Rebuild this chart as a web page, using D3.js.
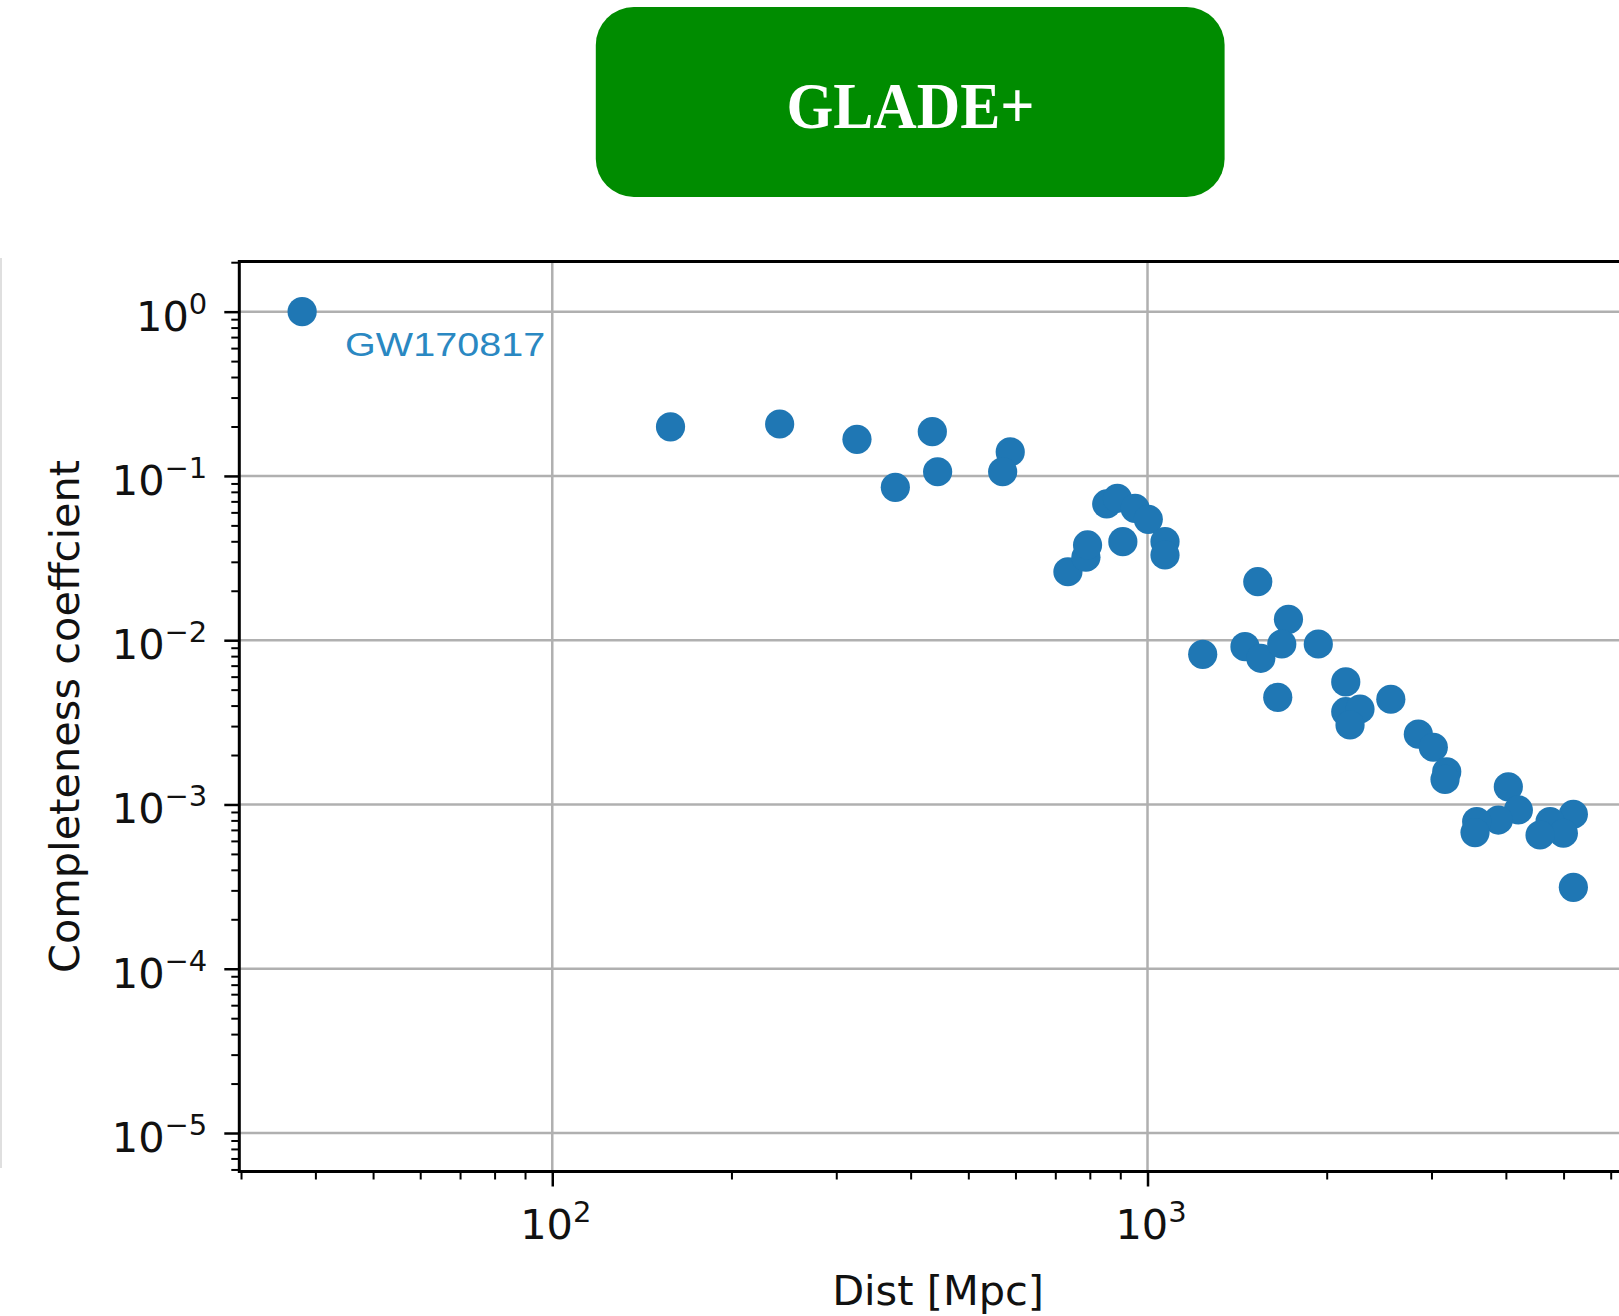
<!DOCTYPE html>
<html>
<head>
<meta charset="utf-8">
<script src="https://cdn.jsdelivr.net/npm/d3@7/dist/d3.min.js"></script>
<style>
  html, body { margin: 0; padding: 0; background: #ffffff; overflow: hidden; }
  svg { display: block; }
</style>
</head>
<body>
<svg id="chart" width="1619" height="1316"></svg>
<script>
// Luminosity distance of each event (Mpc)
const distances = [
  38, 158, 241, 325, 435, 377, 444, 588, 571,
  735, 788, 793, 854, 890, 953, 1003, 909, 1070, 1070,
  1532, 1725, 1238, 1458, 1550, 1681, 1936, 1655,
  2153, 2153, 2275, 2189, 2563, 2851, 3021, 3182, 3161,
  4038, 4198, 3885, 3573, 3550, 5193, 4745, 4996, 4565, 5193
];
// Catalogue completeness coefficient of each event
const coefficients = [
  1.0, 0.199, 0.207, 0.167, 0.186, 0.0852, 0.106, 0.140, 0.106,
  0.0261, 0.0320, 0.0380, 0.0675, 0.0731, 0.0635, 0.0544, 0.0398, 0.0398, 0.0330,
  0.0227, 0.0134, 0.0082, 0.00913, 0.00776, 0.00948, 0.00948, 0.00449,
  0.00557, 0.00367, 0.00381, 0.00305, 0.00437, 0.00268, 0.00223, 0.00158, 0.00142,
  0.00128, 0.000926, 0.000804, 0.000786, 0.000674, 0.000872, 0.000786, 0.000668, 0.000652, 0.000313
];
const annotatedEvent = "GW170817";
const xMajorExponents = [2, 3];
const yMajorExponents = [0, -1, -2, -3, -4, -5];
const xTitle = "Dist [Mpc]";
const yTitle = "Completeness coeffcient";
const catalogName = "GLADE+";

const svg = d3.select("#chart");
const frame = { left: 239.3, top: 261.5, right: 1636.9, bottom: 1171.5 };

const x = d3.scaleLog().domain([29.8, 6640]).range([frame.left, frame.right]);
const y = d3.scaleLog().domain([2.02, 5.83e-6]).range([frame.top, frame.bottom]);

const axisFont = "'DejaVu Sans', sans-serif";
const fontSize = 41.5;
const supSize = 29;
const minus = "\u2212";

// Catalogue banner
svg.append("rect")
  .attr("x", 595.8).attr("y", 7)
  .attr("width", 628.8).attr("height", 190)
  .attr("rx", 38).attr("ry", 38)
  .attr("fill", "#008c00");
svg.append("text")
  .attr("x", 910.5).attr("y", 127.5)
  .attr("text-anchor", "middle")
  .attr("font-family", "'Liberation Serif', 'DejaVu Serif', serif")
  .attr("font-weight", "bold")
  .attr("font-size", 66)
  .attr("fill", "#ffffff")
  .attr("textLength", 248)
  .attr("lengthAdjust", "spacingAndGlyphs")
  .text(catalogName);

// faint edge of the neighbouring panel
svg.append("line")
  .attr("x1", 1).attr("x2", 1).attr("y1", 258).attr("y2", 1168)
  .attr("stroke", "#d4d4d4").attr("stroke-width", 1.5);

const xMajor = xMajorExponents.map(e => Math.pow(10, e));
const yMajor = yMajorExponents.map(e => Math.pow(10, e));
const isPow10 = v => Math.abs(Math.log10(v) - Math.round(Math.log10(v))) < 1e-9;
const xMinor = x.ticks().filter(v => !isPow10(v));
const yMinor = y.ticks().filter(v => !isPow10(v) && v <= 2.02 && v >= 5.83e-6);

// Grid
const grid = svg.append("g").attr("stroke", "#b0b0b0").attr("stroke-width", 2.5);
grid.selectAll("line.gx").data(xMajor).join("line")
  .attr("class", "gx")
  .attr("x1", d => x(d)).attr("x2", d => x(d))
  .attr("y1", frame.top).attr("y2", frame.bottom);
grid.selectAll("line.gy").data(yMajor).join("line")
  .attr("class", "gy")
  .attr("x1", frame.left).attr("x2", frame.right)
  .attr("y1", d => y(d)).attr("y2", d => y(d));

function styleTicks(g, width) {
  g.select(".domain").remove();
  g.selectAll(".tick line").attr("stroke", "#000").attr("stroke-width", width);
}

// Minor ticks
svg.append("g")
  .attr("transform", `translate(${frame.left},0)`)
  .call(d3.axisLeft(y).tickValues(yMinor).tickSize(8).tickSizeOuter(0).tickFormat(""))
  .call(g => styleTicks(g, 2));
svg.append("g")
  .attr("transform", `translate(0,${frame.bottom})`)
  .call(d3.axisBottom(x).tickValues(xMinor).tickSize(8).tickSizeOuter(0).tickFormat(""))
  .call(g => styleTicks(g, 2));

// Major ticks with power-of-ten labels
function powerLabel(text, exponent) {
  text.text(null);
  text.append("tspan").text("10");
  text.append("tspan")
    .attr("font-size", supSize)
    .attr("dy", -17)
    .text(exponent < 0 ? minus + Math.abs(exponent) : String(exponent));
}

svg.append("g")
  .attr("transform", `translate(${frame.left},0)`)
  .call(d3.axisLeft(y).tickValues(yMajor).tickSize(15).tickPadding(17).tickSizeOuter(0))
  .call(g => styleTicks(g, 2.5))
  .call(g => g.selectAll(".tick text")
    .attr("font-family", axisFont).attr("font-size", fontSize)
    .attr("fill", "#111").attr("dy", null).attr("y", 18.5)
    .attr("text-anchor", "end")
    .each(function(d) { powerLabel(d3.select(this), Math.round(Math.log10(d))); }));

svg.append("g")
  .attr("transform", `translate(0,${frame.bottom})`)
  .call(d3.axisBottom(x).tickValues(xMajor).tickSize(15).tickPadding(17).tickSizeOuter(0))
  .call(g => styleTicks(g, 2.5))
  .call(g => g.selectAll(".tick text")
    .attr("font-family", axisFont).attr("font-size", fontSize)
    .attr("fill", "#111").attr("dy", null).attr("y", 67).attr("x", 3)
    .attr("text-anchor", "middle")
    .each(function(d) { powerLabel(d3.select(this), Math.round(Math.log10(d))); }));

// Frame
svg.append("rect")
  .attr("x", frame.left).attr("y", frame.top)
  .attr("width", frame.right - frame.left).attr("height", frame.bottom - frame.top)
  .attr("fill", "none").attr("stroke", "#000").attr("stroke-width", 3);

// Axis titles
svg.append("text")
  .attr("x", (frame.left + frame.right) / 2).attr("y", 1305)
  .attr("text-anchor", "middle")
  .attr("font-family", axisFont).attr("font-size", fontSize).attr("fill", "#111")
  .text(xTitle);
svg.append("text")
  .attr("transform", `translate(79,${(frame.top + frame.bottom) / 2}) rotate(-90)`)
  .attr("text-anchor", "middle")
  .attr("font-family", axisFont).attr("font-size", fontSize).attr("fill", "#111")
  .text(yTitle);

// Events
const points = distances.map((d, i) => ({ d, c: coefficients[i] }));
svg.append("g")
  .selectAll("circle").data(points).join("circle")
  .attr("cx", p => x(p.d)).attr("cy", p => y(p.c))
  .attr("r", 14.6)
  .attr("fill", "#1f77b4");

// Annotation for the nearest event
svg.append("text")
  .attr("x", x(distances[0]) + 43).attr("y", y(coefficients[0]) + 44.5)
  .attr("font-family", "'Liberation Sans', Arial, sans-serif")
  .attr("font-size", 33.5)
  .attr("fill", "#2a88c2")
  .attr("textLength", 200)
  .attr("lengthAdjust", "spacingAndGlyphs")
  .text(annotatedEvent);
</script>
</body>
</html>
